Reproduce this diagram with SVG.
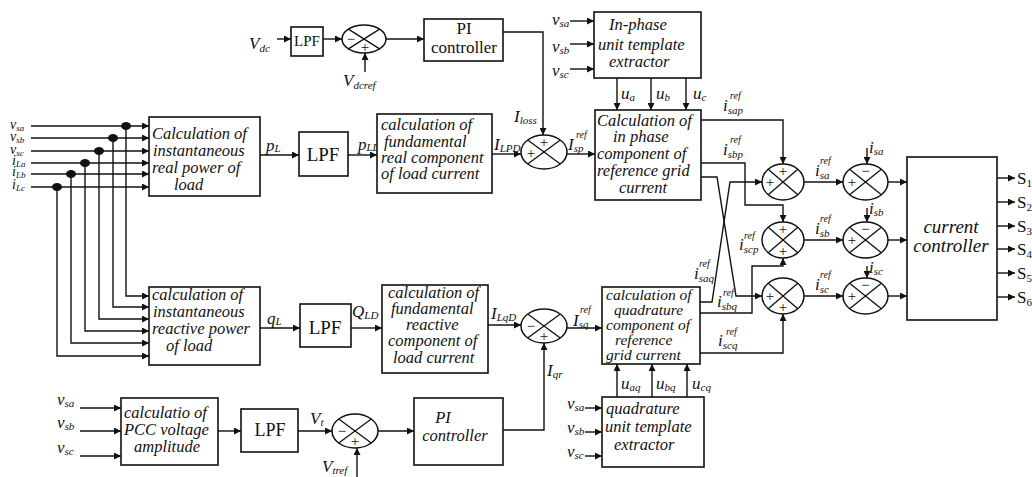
<svg xmlns="http://www.w3.org/2000/svg" width="1032" height="477" viewBox="0 0 1032 477">
<defs>
<marker id="ah" viewBox="0 0 10 10" refX="10" refY="5" markerWidth="9" markerHeight="7" orient="auto" markerUnits="userSpaceOnUse"><path d="M0,0 L10,5 L0,10 z" fill="#111"/></marker>
</defs>
<style>
.c{fill:none;stroke:#111;stroke-width:1.4}
.a{marker-end:url(#ah)}
.b{fill:#fff;stroke:#111;stroke-width:1.6}
.j{fill:#fff;stroke:#111;stroke-width:1.5}
.x{fill:none;stroke:#111;stroke-width:1.3}
.d{fill:#111}
text{font-family:"Liberation Serif","Times New Roman",serif;fill:#111}
.t{font-style:italic;font-size:16.5px}
.tq{font-style:italic;font-size:15.5px}
.u{font-size:17px}
.l{font-style:italic;font-size:17px}
.k{font-style:italic;font-size:14px}
.s{font-size:11px}
.q{font-size:9px}
.r{font-style:italic;font-size:10px}
.g{font-size:15px;text-anchor:middle}
.m{text-anchor:middle}
</style>
<rect width="1032" height="477" fill="#fff"/>

<g id="connectors">
<path class="c a" d="M31,126 H149"/>
<path class="c a" d="M31,138 H149"/>
<path class="c a" d="M31,151 H149"/>
<path class="c a" d="M31,163 H149"/>
<path class="c a" d="M31,174 H149"/>
<path class="c a" d="M31,187 H149"/>
<path class="c a" d="M126,126 V296 H149"/>
<path class="c a" d="M113,138 V307 H149"/>
<path class="c a" d="M99,151 V319 H149"/>
<path class="c a" d="M85,163 V331 H149"/>
<path class="c a" d="M71,174 V343 H149"/>
<path class="c a" d="M57,187 V356 H149"/>
<ellipse class="d" cx="126" cy="126" rx="5" ry="4"/>
<ellipse class="d" cx="113" cy="138" rx="5" ry="4"/>
<ellipse class="d" cx="99" cy="151" rx="5" ry="4"/>
<ellipse class="d" cx="85" cy="163" rx="5" ry="4"/>
<ellipse class="d" cx="71" cy="174" rx="5" ry="4"/>
<ellipse class="d" cx="57" cy="187" rx="5" ry="4"/>

<path class="c a" d="M260,155 H299"/>
<path class="c a" d="M348,155 H377"/>
<path class="c a" d="M492,154 H521"/>
<path class="c a" d="M567,154 H595"/>

<path class="c a" d="M277,39 H291"/>
<path class="c a" d="M323,39 H342"/>
<path class="c a" d="M386,39 H424"/>
<path class="c a" d="M503,32 H543 V135"/>
<path class="c a" d="M365,72 V53"/>

<path class="c a" d="M570,21 H594"/>
<path class="c a" d="M570,44 H594"/>
<path class="c a" d="M570,69 H594"/>
<path class="c a" d="M617,78 V110"/>
<path class="c a" d="M651,78 V110"/>
<path class="c a" d="M686,78 V110"/>

<path class="c a" d="M701,120 H783 V164"/>
<path class="c a" d="M701,163 H745 V205 H783 V222"/>
<path class="c a" d="M701,177 H717 L736,296 H762"/>
<path class="c a" d="M700,302 H712 L730,182 H762"/>
<path class="c a" d="M700,313 H752 V266 H783 V258"/>
<path class="c a" d="M700,353 H783 V314"/>

<path class="c a" d="M804,182 H843"/>
<path class="c a" d="M804,240 H843"/>
<path class="c a" d="M804,296 H843"/>
<path class="c a" d="M888,182 H907"/>
<path class="c a" d="M888,240 H907"/>
<path class="c a" d="M888,296 H907"/>
<path class="c a" d="M867,148 V164"/>
<path class="c a" d="M867,208 V222"/>
<path class="c a" d="M867,266 V278"/>

<path class="c a" d="M997,178 H1015"/>
<path class="c a" d="M997,202 H1015"/>
<path class="c a" d="M997,226 H1015"/>
<path class="c a" d="M997,249 H1015"/>
<path class="c a" d="M997,273 H1015"/>
<path class="c a" d="M997,297 H1015"/>

<path class="c a" d="M260,328 H300"/>
<path class="c a" d="M351,328 H382"/>
<path class="c a" d="M488,325 H521"/>
<path class="c a" d="M567,328 H602"/>
<path class="c a" d="M503,430 H544 V343"/>
<path class="c a" d="M617,397 V364"/>
<path class="c a" d="M652,397 V364"/>
<path class="c a" d="M687,397 V364"/>
<path class="c a" d="M585,408 H602"/>
<path class="c a" d="M585,432 H602"/>
<path class="c a" d="M585,456 H602"/>

<path class="c a" d="M80,408 H121"/>
<path class="c a" d="M80,431 H121"/>
<path class="c a" d="M80,456 H121"/>
<path class="c a" d="M218,431 H241"/>
<path class="c a" d="M298,431 H332"/>
<path class="c a" d="M378,431 H414"/>
<path class="c a" d="M357,477 V448"/>
</g>

<g id="labels">
<text class="k" x="10" y="129">v<tspan class="q" dy="2">sa</tspan></text>
<text class="k" x="10" y="141">v<tspan class="q" dy="2">sb</tspan></text>
<text class="k" x="10" y="154">v<tspan class="q" dy="2">sc</tspan></text>
<text class="k" x="12" y="165">i<tspan class="q" dy="2">La</tspan></text>
<text class="k" x="12" y="176">i<tspan class="q" dy="2">Lb</tspan></text>
<text class="k" x="12" y="189">i<tspan class="q" dy="2">Lc</tspan></text>
<text class="l" x="266" y="151">p<tspan class="s" dy="1">L</tspan></text>
<text class="l" x="358" y="150">p<tspan class="s" dy="1">LD</tspan></text>
<text class="l" x="494" y="150">I<tspan class="s" dy="2">LPD</tspan></text>
<text class="l" x="514" y="122">I<tspan class="s" dy="2">loss</tspan></text>
<text class="l" x="568" y="150">I<tspan class="s" dy="2">sp</tspan></text>
<text class="r" x="576" y="138">ref</text>
<text class="l" x="249" y="49">V<tspan class="s" dy="3">dc</tspan></text>
<text class="l" x="343" y="86">V<tspan class="s" dy="3">dcref</tspan></text>
<text class="l" x="552" y="25">v<tspan class="s" dy="2">sa</tspan></text>
<text class="l" x="552" y="52">v<tspan class="s" dy="2">sb</tspan></text>
<text class="l" x="552" y="76">v<tspan class="s" dy="2">sc</tspan></text>
<text class="l" x="621" y="99">u<tspan class="s" dy="2">a</tspan></text>
<text class="l" x="656" y="99">u<tspan class="s" dy="2">b</tspan></text>
<text class="l" x="693" y="99">u<tspan class="s" dy="2">c</tspan></text>
<text class="l" x="723" y="111">i<tspan class="s" dy="3">sap</tspan></text>
<text class="r" x="730" y="99">ref</text>
<text class="l" x="723" y="155">i<tspan class="s" dy="3">sbp</tspan></text>
<text class="r" x="730" y="143">ref</text>
<text class="l" x="739" y="250">i<tspan class="s" dy="3">scp</tspan></text>
<text class="r" x="744" y="239">ref</text>
<text class="l" x="694" y="279">i<tspan class="s" dy="3">saq</tspan></text>
<text class="r" x="699" y="267">ref</text>
<text class="l" x="717" y="307">i<tspan class="s" dy="3">sbq</tspan></text>
<text class="r" x="723" y="296">ref</text>
<text class="l" x="718" y="346">i<tspan class="s" dy="3">scq</tspan></text>
<text class="r" x="726" y="335">ref</text>
<text class="l" x="815" y="176">i<tspan class="s" dy="3">sa</tspan></text>
<text class="r" x="820" y="164">ref</text>
<text class="l" x="815" y="234">i<tspan class="s" dy="3">sb</tspan></text>
<text class="r" x="820" y="222">ref</text>
<text class="l" x="815" y="290">i<tspan class="s" dy="3">sc</tspan></text>
<text class="r" x="820" y="278">ref</text>
<text class="l" x="869" y="153">i<tspan class="s" dy="2">sa</tspan></text>
<text class="l" x="869" y="214">i<tspan class="s" dy="2">sb</tspan></text>
<text class="l" x="869" y="273">i<tspan class="s" dy="2">sc</tspan></text>
<text class="u" x="1017" y="184">S<tspan class="s" dy="3">1</tspan></text>
<text class="u" x="1017" y="208">S<tspan class="s" dy="3">2</tspan></text>
<text class="u" x="1017" y="232">S<tspan class="s" dy="3">3</tspan></text>
<text class="u" x="1017" y="255">S<tspan class="s" dy="3">4</tspan></text>
<text class="u" x="1017" y="279">S<tspan class="s" dy="3">5</tspan></text>
<text class="u" x="1017" y="303">S<tspan class="s" dy="3">6</tspan></text>
<text class="l" x="267" y="324">q<tspan class="s" dy="1">L</tspan></text>
<text class="l" x="352" y="317">Q<tspan class="s" dy="2">LD</tspan></text>
<text class="l" x="491" y="319">I<tspan class="s" dy="2">LqD</tspan></text>
<text class="l" x="573" y="326">I<tspan class="s" dy="2">sq</tspan></text>
<text class="r" x="580" y="313">ref</text>
<text class="l" x="547" y="376">I<tspan class="s" dy="2">qr</tspan></text>
<text class="l" x="621" y="389">u<tspan class="s" dy="2">aq</tspan></text>
<text class="l" x="656" y="389">u<tspan class="s" dy="2">bq</tspan></text>
<text class="l" x="692" y="389">u<tspan class="s" dy="2">cq</tspan></text>
<text class="l" x="567" y="409">v<tspan class="s" dy="2">sa</tspan></text>
<text class="l" x="567" y="433">v<tspan class="s" dy="2">sb</tspan></text>
<text class="l" x="567" y="457">v<tspan class="s" dy="2">sc</tspan></text>
<text class="l" x="57" y="405">v<tspan class="s" dy="2">sa</tspan></text>
<text class="l" x="57" y="428">v<tspan class="s" dy="2">sb</tspan></text>
<text class="l" x="57" y="453">v<tspan class="s" dy="2">sc</tspan></text>
<text class="l" x="310" y="424">V<tspan class="s" dy="2">t</tspan></text>
<text class="l" x="322" y="472">V<tspan class="s" dy="2">tref</tspan></text>
</g>

<g id="box-real-power">
<rect class="b" x="149" y="117" width="111" height="79"/>
<text class="t" x="152" y="139">Calculation of</text>
<text class="t" x="153" y="156">instantaneous</text>
<text class="t" x="152" y="173">real power of</text>
<text class="t" x="174" y="190">load</text>
</g>
<g id="box-reactive-power">
<rect class="b" x="149" y="287" width="111" height="78"/>
<text class="t" x="152" y="300">calculation of</text>
<text class="t" x="153" y="317">instantaneous</text>
<text class="t" x="152" y="334">reactive power</text>
<text class="t" x="166" y="351">of load</text>
</g>
<g id="lpf-p">
<rect class="b" x="299" y="132" width="49" height="44"/>
<text class="u m" x="323" y="161" style="font-size:19px">LPF</text>
</g>
<g id="lpf-q">
<rect class="b" x="300" y="304" width="51" height="43"/>
<text class="u m" x="325" y="334" style="font-size:19px">LPF</text>
</g>
<g id="box-fund-real">
<rect class="b" x="377" y="114" width="115" height="79"/>
<text class="t" x="381" y="130">calculation of</text>
<text class="t" x="384" y="147">fundamental</text>
<text class="t" x="381" y="163">real component</text>
<text class="t" x="381" y="179">of load current</text>
</g>
<g id="box-fund-reactive">
<rect class="b" x="382" y="285" width="106" height="88"/>
<text class="t" x="388" y="298">calculation of</text>
<text class="t" x="391" y="314">fundamental</text>
<text class="t" x="406" y="330">reactive</text>
<text class="t" x="388" y="346">component of</text>
<text class="t" x="393" y="363">load current</text>
</g>
<g id="lpf-dc">
<rect class="b" x="291" y="27" width="32" height="29"/>
<text class="u m" x="307" y="46" style="font-size:15px">LPF</text>
</g>
<g id="sum-dc">
<ellipse class="j" cx="364" cy="39" rx="22" ry="14"/>
<path class="x" d="M348.4,29.1 L379.6,48.9 M379.6,29.1 L348.4,48.9"/>
<text class="g" x="351" y="44">−</text>
<text class="g" x="365" y="52">+</text>
</g>
<g id="pi-dc">
<rect class="b" x="424" y="19" width="79" height="42"/>
<text class="u m" x="464" y="34">PI</text>
<text class="u m" x="464" y="53">controller</text>
</g>
<g id="sum-p">
<ellipse class="j" cx="544" cy="152" rx="23" ry="17"/>
<path class="x" d="M527.7,140 L560.3,164 M560.3,140 L527.7,164"/>
<text class="g" x="544" y="147">+</text>
<text class="g" x="531" y="158">+</text>
</g>
<g id="inphase-template">
<rect class="b" x="594" y="12" width="107" height="66"/>
<text class="t" x="609" y="30">In-phase</text>
<text class="t" x="598" y="50">unit template</text>
<text class="t" x="609" y="67">extractor</text>
</g>
<g id="inphase-calc">
<rect class="b" x="595" y="110" width="106" height="90"/>
<text class="t" x="597" y="126">Calculation of</text>
<text class="t" x="613" y="142">in phase</text>
<text class="t" x="597" y="159">component of</text>
<text class="t" x="597" y="176">reference grid</text>
<text class="t" x="619" y="193">current</text>
</g>
<g id="sum-q">
<ellipse class="j" cx="544" cy="326" rx="23" ry="17"/>
<path class="x" d="M527.7,314 L560.3,338 M560.3,314 L527.7,338"/>
<text class="g" x="531" y="331">−</text>
<text class="g" x="544" y="341">+</text>
</g>
<g id="quad-calc">
<rect class="b" x="602" y="287" width="98" height="77"/>
<text class="tq" x="606" y="300">calculation of</text>
<text class="tq" x="614" y="315">quadrature</text>
<text class="tq" x="606" y="330">component of</text>
<text class="tq" x="615" y="345">reference</text>
<text class="tq" x="606" y="360">grid current</text>
</g>
<g id="quad-template">
<rect class="b" x="602" y="397" width="102" height="70"/>
<text class="t" x="606" y="414">quadrature</text>
<text class="t" x="605" y="432">unit template</text>
<text class="t" x="614" y="450">extractor</text>
</g>
<g id="pcc-amplitude">
<rect class="b" x="121" y="398" width="97" height="67"/>
<text class="t" x="124" y="418">calculatio of</text>
<text class="t" x="124" y="435">PCC voltage</text>
<text class="t" x="134" y="452">amplitude</text>
</g>
<g id="lpf-t">
<rect class="b" x="241" y="409" width="57" height="43"/>
<text class="u m" x="270" y="436" style="font-size:18px">LPF</text>
</g>
<g id="sum-t">
<ellipse class="j" cx="355" cy="431" rx="23" ry="17"/>
<path class="x" d="M338.7,419 L371.3,443 M371.3,419 L338.7,443"/>
<text class="g" x="342" y="436">−</text>
<text class="g" x="355" y="446">+</text>
</g>
<g id="pi-t">
<rect class="b" x="414" y="398" width="89" height="67"/>
<text class="t m" x="443" y="423">PI</text>
<text class="t m" x="455" y="441">controller</text>
</g>
<g id="sum-a1">
<ellipse class="j" cx="783" cy="182" rx="21" ry="18"/>
<path class="x" d="M768.2,169.3 L797.8,194.7 M797.8,169.3 L768.2,194.7"/>
<text class="g" x="783" y="176">+</text>
<text class="g" x="770" y="187">+</text>
</g>
<g id="sum-b1">
<ellipse class="j" cx="783" cy="240" rx="21" ry="18"/>
<path class="x" d="M768.2,227.3 L797.8,252.7 M797.8,227.3 L768.2,252.7"/>
<text class="g" x="783" y="234">+</text>
<text class="g" x="783" y="256">+</text>
</g>
<g id="sum-c1">
<ellipse class="j" cx="783" cy="296" rx="21" ry="18"/>
<path class="x" d="M768.2,283.3 L797.8,308.7 M797.8,283.3 L768.2,308.7"/>
<text class="g" x="770" y="301">+</text>
<text class="g" x="783" y="312">+</text>
</g>
<g id="sum-a2">
<ellipse class="j" cx="865.5" cy="182" rx="22.5" ry="18"/>
<path class="x" d="M849.6,169.3 L881.4,194.7 M881.4,169.3 L849.6,194.7"/>
<text class="g" x="865.5" y="176">−</text>
<text class="g" x="852" y="187">+</text>
</g>
<g id="sum-b2">
<ellipse class="j" cx="865.5" cy="240" rx="22.5" ry="18"/>
<path class="x" d="M849.6,227.3 L881.4,252.7 M881.4,227.3 L849.6,252.7"/>
<text class="g" x="865.5" y="234">−</text>
<text class="g" x="852" y="245">+</text>
</g>
<g id="sum-c2">
<ellipse class="j" cx="865.5" cy="296" rx="22.5" ry="18"/>
<path class="x" d="M849.6,283.3 L881.4,308.7 M881.4,283.3 L849.6,308.7"/>
<text class="g" x="865.5" y="290">−</text>
<text class="g" x="852" y="301">+</text>
</g>
<g id="current-controller">
<rect class="b" x="907" y="157" width="90" height="163"/>
<text class="t m" x="951" y="233" style="font-size:19px">current</text>
<text class="t m" x="951" y="252" style="font-size:19px">controller</text>
</g>
</svg>
